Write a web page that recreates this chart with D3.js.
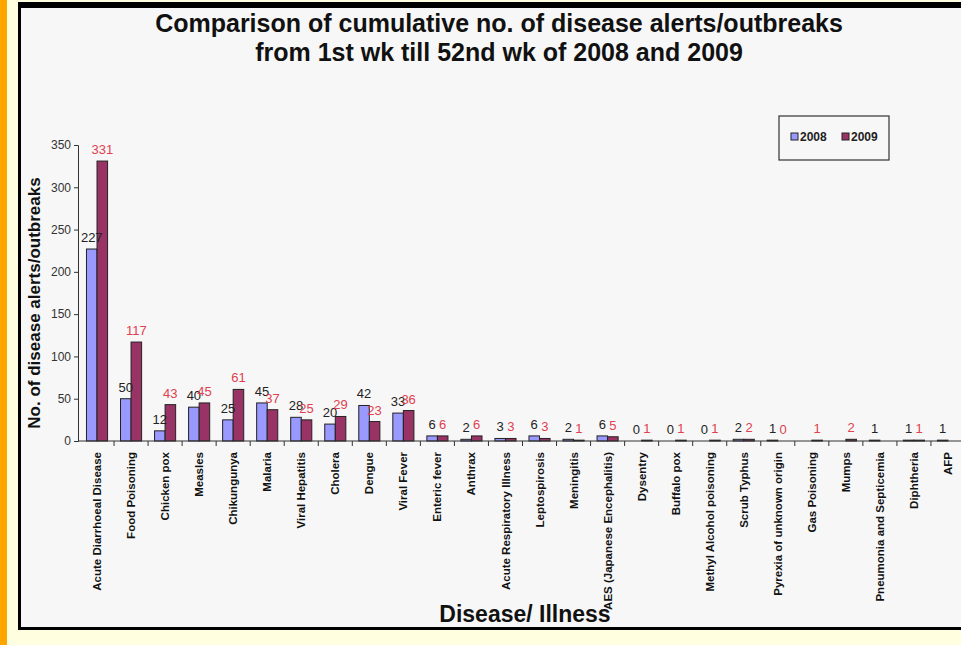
<!DOCTYPE html>
<html>
<head>
<meta charset="utf-8">
<script src="https://cdnjs.cloudflare.com/ajax/libs/d3/7.8.5/d3.min.js"></script>
<style>
  body{margin:0;padding:0;background:#ffffe0;}
  svg{display:block;}
</style>
</head>
<body>
<svg id="chart"></svg>
<script>
// data
var diseases=["Acute Diarrhoeal Disease","Food Poisoning","Chicken pox","Measles","Chikungunya","Malaria","Viral Hepatitis","Cholera","Dengue","Viral Fever","Enteric fever","Anthrax","Acute Respiratory Illness","Leptospirosis","Meningitis","AES (Japanese Encephalitis)","Dysentry","Buffalo pox","Methyl Alcohol poisoning","Scrub Typhus","Pyrexia of unknown origin","Gas Poisoning","Mumps","Pneumonia and Septicemia","Diphtheria","AFP"];
var alerts2008=[227,50,12,40,25,45,28,20,42,33,6,2,3,6,2,6,0,0,0,2,1,null,null,1,1,1];
var alerts2009=[331,117,43,45,61,37,25,29,23,36,6,6,3,3,1,5,1,1,1,2,0,1,2,null,1,null];
var years=["2008","2009"];
var yTicks=[0,50,100,150,200,250,300,350];

var W=961,H=645;
var svg=d3.select('#chart').attr('width',W).attr('height',H);

// frame
svg.append('rect').attr('x',0).attr('y',0).attr('width',W).attr('height',H).attr('fill','#ffffe0');
svg.append('rect').attr('x',0).attr('y',0).attr('width',7).attr('height',H).attr('fill','#ffa500');
svg.append('rect').attr('x',18).attr('y',2).attr('width',W-18).attr('height',628).attr('fill','#000');
svg.append('rect').attr('x',21).attr('y',8).attr('width',W-21).attr('height',619).attr('fill','#f7f7f7');

var colors={"2008":"#9999ff","2009":"#993366"};
var labelColors={"2008":"#222","2009":"#e0404f"};

var rows=diseases.map(function(d,i){return {name:d,"2008":alerts2008[i],"2009":alerts2009[i]};});

var x0=d3.scaleBand().domain(diseases).range([80,965]).paddingInner(0.38).paddingOuter(0.19);
var x1=d3.scaleBand().domain(years).range([0,x0.bandwidth()]);
var y=d3.scaleLinear().domain([0,350]).range([441,145]);

// title
var title=svg.append('text').attr('text-anchor','middle').attr('font-family','Liberation Sans, Arial, sans-serif')
  .attr('font-weight','bold').attr('font-size',25).attr('fill','#111');
title.append('tspan').attr('x',499).attr('y',32).text('Comparison of cumulative no. of disease alerts/outbreaks');
title.append('tspan').attr('x',499).attr('y',61).text('from 1st wk till 52nd wk of 2008 and 2009');

// bars
var groups=svg.append('g').selectAll('g').data(rows).enter().append('g')
  .attr('transform',function(d){return 'translate('+x0(d.name)+',0)';});

groups.selectAll('rect').data(function(d){return years.filter(function(k){return d[k]!=null;}).map(function(k){return {key:k,value:d[k]};});})
  .enter().append('rect')
  .attr('x',function(d){return x1(d.key);})
  .attr('y',function(d){return y(d.value);})
  .attr('width',x1.bandwidth())
  .attr('height',function(d){return y(0)-y(d.value);})
  .attr('fill',function(d){return colors[d.key];})
  .attr('stroke','#222').attr('stroke-width',1);

groups.selectAll('text').data(function(d){return years.filter(function(k){return d[k]!=null;}).map(function(k){return {key:k,value:d[k]};});})
  .enter().append('text')
  .attr('x',function(d){return x1(d.key)+x1.bandwidth()/2;})
  .attr('y',function(d){return y(d.value)-7;})
  .attr('text-anchor','middle')
  .attr('font-family','Liberation Sans, Arial, sans-serif').attr('font-size',13)
  .attr('fill',function(d){return labelColors[d.key];})
  .text(function(d){return d.value;});

// y axis
var yAxis=svg.append('g').attr('transform','translate(78,0)')
  .call(d3.axisLeft(y).tickValues(yTicks).tickSize(4).tickPadding(3));
yAxis.selectAll('text').attr('font-family','Liberation Sans, Arial, sans-serif').attr('font-size',12).attr('fill','#333');
yAxis.selectAll('line,path').attr('stroke','#333');

// x axis line and ticks between categories
svg.append('line').attr('x1',78).attr('x2',W).attr('y1',441).attr('y2',441).attr('stroke','#333');
var step=x0.step();
svg.append('g').selectAll('line').data(diseases).enter().append('line')
  .attr('x1',function(d){return x0(d)+x0.bandwidth()/2+step/2;})
  .attr('x2',function(d){return x0(d)+x0.bandwidth()/2+step/2;})
  .attr('y1',441).attr('y2',446).attr('stroke','#333');

// axis titles
svg.append('text').attr('transform','translate(40,303) rotate(-90)').attr('text-anchor','middle')
  .attr('font-family','Liberation Sans, Arial, sans-serif').attr('font-weight','bold').attr('font-size',17).attr('fill','#111')
  .text('No. of disease alerts/outbreaks');
svg.append('text').attr('x',525).attr('y',622).attr('text-anchor','middle')
  .attr('font-family','Liberation Sans, Arial, sans-serif').attr('font-weight','bold').attr('font-size',23).attr('fill','#111')
  .text('Disease/ Illness');

// category labels
svg.append('g').selectAll('text').data(diseases).enter().append('text')
  .attr('transform',function(d){return 'translate('+(x0(d)+x0.bandwidth()/2)+',452) rotate(-90)';})
  .attr('dy','0.35em').attr('text-anchor','end')
  .attr('font-family','Liberation Sans Narrow, Arial Narrow, Liberation Sans, sans-serif')
  .attr('font-weight','bold').attr('font-size',11.5).attr('fill','#111')
  .text(function(d){return d;});

// legend
var lg=svg.append('g');
lg.append('rect').attr('x',779).attr('y',116).attr('width',110).attr('height',44).attr('fill','#f7f7f7').attr('stroke','#333').attr('stroke-width',1.2);
years.forEach(function(k,i){
  var lx=791+i*51;
  lg.append('rect').attr('x',lx).attr('y',133).attr('width',7).attr('height',7).attr('fill',colors[k]).attr('stroke','#222');
  lg.append('text').attr('x',lx+9).attr('y',141).attr('font-family','Liberation Sans, Arial, sans-serif')
    .attr('font-weight','bold').attr('font-size',12).attr('fill','#222').text(k);
});
</script>
</body>
</html>
